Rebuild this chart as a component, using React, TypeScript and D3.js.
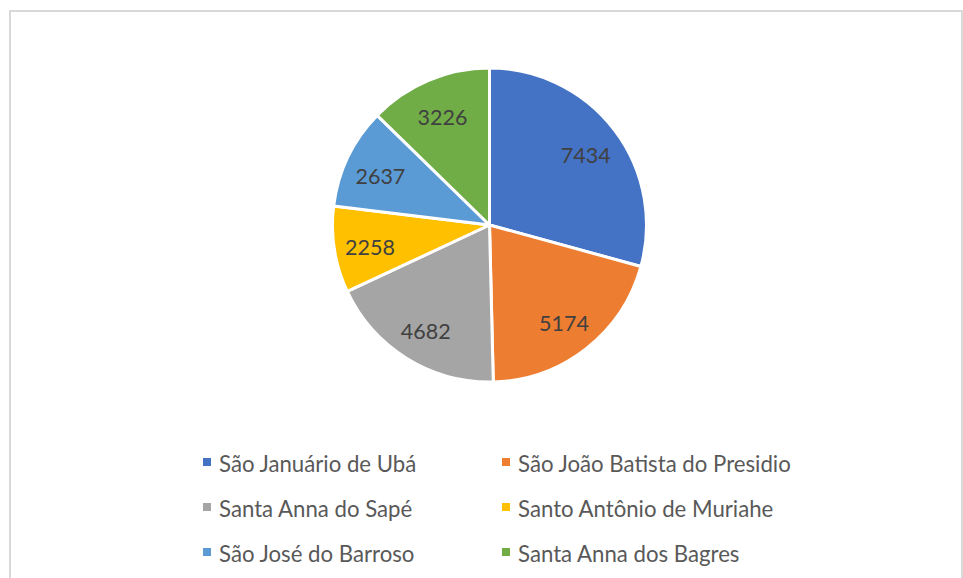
import React from "react";
import * as d3 from "d3";

const categories = [
  "São Januário de Ubá",
  "São João Batista do Presidio",
  "Santa Anna do Sapé",
  "Santo Antônio de Muriahe",
  "São José do Barroso",
  "Santa Anna dos Bagres",
];
const values = [7434, 5174, 4682, 2258, 2637, 3226];
const colors = ["#4472C4", "#ED7D31", "#A5A5A5", "#FFC000", "#5B9BD5", "#70AD47"];

const W = 963;
const H = 578;
const cx = 489.5;
const cy = 225;
const R = 157;
const labelR = 121;

export default function App() {
  const data = categories.map((c, i) => ({ name: c, value: values[i], color: colors[i] }));
  const pie = d3.pie<any>().sort(null).value((d) => d.value);
  const arcs = pie(data);
  const arc = d3.arc<any>().innerRadius(0).outerRadius(R);
  const labelArc = d3.arc<any>().innerRadius(labelR).outerRadius(labelR);

  const colX = d3.scalePoint<number>().domain([0, 1]).range([203, 502]);
  const rowY = d3.scalePoint<number>().domain([0, 1, 2]).range([458, 548]);
  const sq = 8;

  return (
    <svg
      width={W}
      height={H}
      style={{ position: "absolute", left: 0, top: 0, background: "#fff" }}
      fontFamily="Lato, 'Open Sans', sans-serif"
    >
      <rect x={0} y={0} width={W} height={H} fill="#fff" />
      <rect x={10} y={11} width={952} height={620} fill="none" stroke="#d9d9d9" strokeWidth={2} />
      <g transform={`translate(${cx},${cy})`}>
        {arcs.map((a, i) => (
          <path key={i} d={arc(a) as string} fill={a.data.color} stroke="#fff" strokeWidth={3} strokeLinejoin="round" />
        ))}
        {arcs.map((a, i) => {
          const [x, y] = labelArc.centroid(a);
          return (
            <text
              key={"l" + i}
              x={x}
              y={y + 3}
              textAnchor="middle"
              dominantBaseline="central"
              fontSize={21.5}
              fill="#404040"
            >
              {a.data.value}
            </text>
          );
        })}
      </g>
      <g>
        {data.map((d, i) => {
          const x = colX(i % 2)!;
          const y = rowY(Math.floor(i / 2))!;
          return (
            <g key={"lg" + i}>
              <rect x={x} y={y} width={sq} height={sq} fill={d.color} />
              <text x={x + 16} y={y + sq / 2 + 1} dominantBaseline="central" fontSize={22.2} fill="#595959">
                {d.name}
              </text>
            </g>
          );
        })}
      </g>
    </svg>
  );
}
